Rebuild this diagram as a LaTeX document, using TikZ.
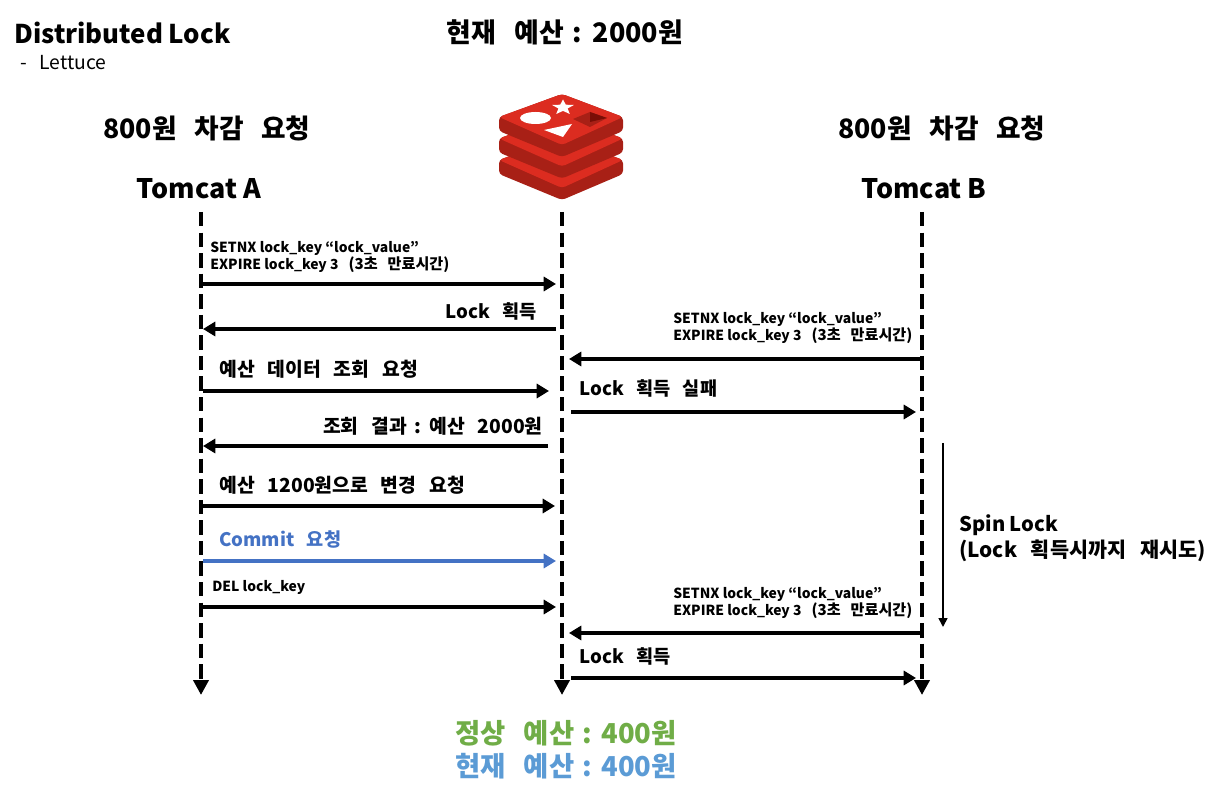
\documentclass[tikz,border=0pt]{standalone}
\usepackage{fontspec}
\usetikzlibrary{arrows.meta}
\setmainfont{Noto Sans CJK KR}
\newfontfamily\korfont[WordSpace=2.9]{Noto Sans CJK KR}
\newcommand{\setnxlines}{SETNX lock\_key “lock\_value”\\EXPIRE lock\_key 3{\korfont\fontsize{8.6pt}{10.2pt}\selectfont\ (3초 만료시간)}}
\definecolor{redistop}{RGB}{220,44,32}
\definecolor{redisside}{RGB}{168,32,22}
\definecolor{redishole}{RGB}{122,14,6}
\definecolor{commitblue}{RGB}{68,114,196}
\definecolor{normalgreen}{RGB}{112,173,71}
\definecolor{currentblue}{RGB}{91,155,213}
\tikzset{
  titletext/.style={font=\bfseries\fontsize{15.3pt}{18pt}\selectfont,inner sep=0},
  bigtext/.style={font=\korfont\bfseries\fontsize{15.2pt}{18pt}\selectfont,inner sep=0},
  midtext/.style={font=\korfont\bfseries\fontsize{11pt}{13pt}\selectfont,inner sep=0},
  locktext/.style={font=\korfont\bfseries\fontsize{10.6pt}{13pt}\selectfont,inner sep=0},
  smalltext/.style={font=\bfseries\fontsize{7.9pt}{10.2pt}\selectfont,align=left,inner sep=0},
  lifeline/.style={line width=2.8pt,dash pattern=on 8.2pt off 3.5pt},
  msg/.style={-{Triangle[length=7pt,width=8pt]},line width=2.1pt},
}
\begin{document}
\begin{tikzpicture}[x=0.02cm,y=-0.02cm]
  \useasboundingbox (0,0) rectangle (1214,803);
  % nadpisy
  \node[titletext,font=\bfseries\fontsize{14.7pt}{18pt}\selectfont,anchor=west] (title) at (14,33) {Distributed Lock};
  \node[anchor=west,inner sep=0,font=\korfont\fontsize{11pt}{13pt}\selectfont] (client) at (20,63) {- Lettuce};
  \node[titletext] (budget) at (565,32) {{\korfont 현재 예산}\hspace{1.5pt} : \hspace{1.5pt}2000원};
  \node[bigtext] (reqA) at (207,128) {800원 차감 요청};
  \node[bigtext] (reqB) at (942,128) {800원 차감 요청};
  \node[titletext] (tomcatA) at (199,189) {Tomcat A};
  \node[titletext] (tomcatB) at (924,189) {Tomcat B};
  % logo redisu
  \foreach \dy in {43,21.5,0} {
    \fill[redisside,rounded corners=2pt,yshift=-\dy*0.02cm] (499,117) -- (499,131) -- (562,157) -- (623,131) -- (623,117) -- (562,94) -- cycle;
    \fill[redistop,rounded corners=2pt,yshift=-\dy*0.02cm] (499,117) -- (562,94) -- (623,117) -- (562,145) -- cycle;
  }
  \fill[white] (535.5,118) ellipse (15.5 and 6);
  \fill[white] (563,99.5) -- (565.8,104.7) -- (573.9,105) -- (567.6,108.5) -- (569.8,114) -- (563,110.9) -- (556.2,114) -- (558.4,108.5) -- (552.1,105) -- (560.2,104.7) -- cycle;
  \fill[white] (544,130) -- (572,124) -- (563,137) -- cycle;
  \fill[redisside] (573,119) -- (590,112) -- (607,118) -- (590,127) -- cycle;
  \fill[redishole] (590,112) -- (607,118) -- (590,122) -- cycle;
  % zivotni cary
  \coordinate (topA) at (201,212);
  \coordinate (lowA) at (201,680);
  \coordinate (endA) at (201,695);
  \coordinate (topR) at (562,212);
  \coordinate (lowR) at (562,680);
  \coordinate (endR) at (562,695);
  \coordinate (topB) at (922,212);
  \coordinate (lowB) at (922,680);
  \coordinate (endB) at (922,695);
  \foreach \lane in {A,R,B} {
    \draw[lifeline] (top\lane) -- (low\lane);
    \draw[-{Triangle[length=8.5pt,width=8.5pt]},line width=2.8pt] (low\lane) -- (end\lane);
  }
  % zpravy
  \foreach \name/\x/\y in {a1/203/284,r1/556/284,r2/556/329,a2/203/329,b3/922/359,r3/569/359,a4/203/391,r4/549/391,r5/571/412,b5/916/412,r6/548/446,a6/203/446,a7/203/506,r7/555/506,a8/203/561,r8/556/561,a9/203/607,r9/556/607,b10/922/633,r10/569/633,r11/571/678,b11/916/678,s1/943/443,s2/943/627}
    \coordinate (\name) at (\x,\y);
  \foreach \from/\to in {a1/r1,r2/a2,b3/r3,a4/r4,r5/b5,r6/a6,a7/r7,a9/r9,b10/r10,r11/b11}
    \draw[msg] (\from) -- (\to);
  \draw[msg,commitblue] (a8) -- (r8);
  \draw[-{Triangle[length=5pt,width=5pt]},line width=0.9pt] (s1) -- (s2);
  % popisky
  \node[smalltext,anchor=west] (setA) at (210,257) {\setnxlines};
  \node[locktext,anchor=east] (lockA) at (537,311) {Lock 획득};
  \node[smalltext,anchor=west] (setB) at (673,328) {\setnxlines};
  \node[midtext,anchor=west] (query) at (219,369) {예산 데이터 조회 요청};
  \node[locktext,anchor=west] (failB) at (579,388) {Lock 획득 실패};
  \node[midtext,font=\bfseries\fontsize{11pt}{13pt}\selectfont,anchor=east] (result) at (543,426) {{\korfont 조회 결과}\hspace{1.5pt} : \hspace{1.5pt}{\korfont 예산 2000원}};
  \node[midtext,anchor=west] (update) at (219,485) {예산 1200원으로 변경 요청};
  \node[locktext,anchor=west,text=commitblue] (commit) at (219,540) {Commit 요청};
  \node[smalltext,anchor=west] (del) at (212,587) {DEL lock\_key};
  \node[midtext,font=\bfseries\fontsize{11.5pt}{13pt}\selectfont,anchor=west] (spin) at (959,525) {Spin Lock};
  \node[midtext,font=\korfont\bfseries\fontsize{11.8pt}{13pt}\selectfont,anchor=west] (retry) at (959,551) {(Lock 획득시까지 재시도)};
  \node[smalltext,anchor=west] (setC) at (673,603) {\setnxlines};
  \node[locktext,anchor=west] (lockB) at (579,656) {Lock 획득};
  \node[titletext,font=\bfseries\fontsize{15.6pt}{18pt}\selectfont,text=normalgreen] (normal) at (566,733) {{\korfont 정상 예산}\hspace{0.8pt} : \hspace{0.8pt}400원};
  \node[titletext,font=\bfseries\fontsize{15.6pt}{18pt}\selectfont,text=currentblue] (current) at (566,766) {{\korfont 현재 예산}\hspace{0.8pt} : \hspace{0.8pt}400원};
\end{tikzpicture}
\end{document}
